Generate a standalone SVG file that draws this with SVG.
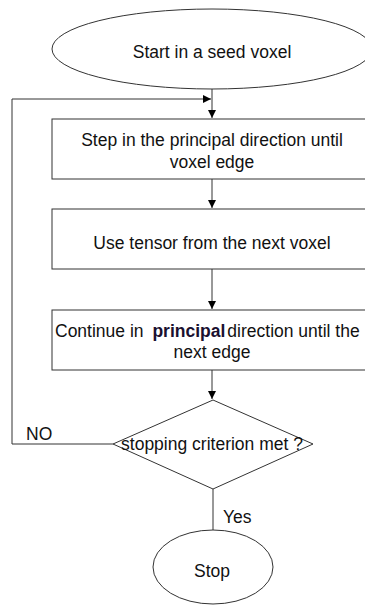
<svg xmlns="http://www.w3.org/2000/svg" width="365" height="605" viewBox="0 0 365 605">
<defs>
<marker id="ah" viewBox="0 0 10 10" refX="10" refY="5" markerWidth="8" markerHeight="8" markerUnits="userSpaceOnUse" orient="auto"><path d="M0,0 L10,5 L0,10 Z" fill="#000"/></marker>
<style>
.s{fill:#fff;stroke:#333;stroke-width:1}
.c{fill:none;stroke:#333;stroke-width:1}
text{font-family:"Liberation Sans",Arial,sans-serif;font-size:17.5px;fill:#111}
.m{text-anchor:middle}
</style>
</defs>
<rect width="365" height="605" fill="#fff"/>
<g id="connectors">
<path class="c" d="M212,89 V118" marker-end="url(#ah)"/>
<path class="c" d="M212,179 V208" marker-end="url(#ah)"/>
<path class="c" d="M212,269 V309" marker-end="url(#ah)"/>
<path class="c" d="M212,370 V399" marker-end="url(#ah)"/>
<path class="c" d="M113,444 H12 V99 H211" marker-end="url(#ah)"/>
<path class="c" d="M213,489 V530"/>
<text x="26" y="440">NO</text>
<text x="223" y="523">Yes</text>
</g>
<g id="start"><ellipse class="s" cx="212" cy="49" rx="160" ry="40"/><text class="m" x="212" y="58">Start in a seed voxel</text></g>
<g id="step"><rect class="s" x="52" y="119" width="320" height="60"/><text class="m" x="212" y="146">Step in the principal direction until</text><text class="m" x="212" y="168">voxel edge</text></g>
<g id="tensor"><rect class="s" x="52" y="209" width="320" height="60"/><text class="m" x="212" y="249">Use tensor from the next voxel</text></g>
<g id="continue"><rect class="s" x="52" y="310" width="320" height="60"/><text x="55" y="337">Continue in <tspan dx="4" font-weight="bold" fill="#1a1030">principal</tspan><tspan dx="2">direction until the</tspan></text><text class="m" x="212" y="358">next edge</text></g>
<g id="decision"><path class="s" d="M213,400 L313,444 L213,489 L113,444 Z"/><text class="m" x="212" y="450">stopping criterion met ?</text></g>
<g id="stop"><ellipse class="s" cx="213" cy="567" rx="60" ry="37"/><text class="m" x="212" y="577">Stop</text></g>
</svg>
